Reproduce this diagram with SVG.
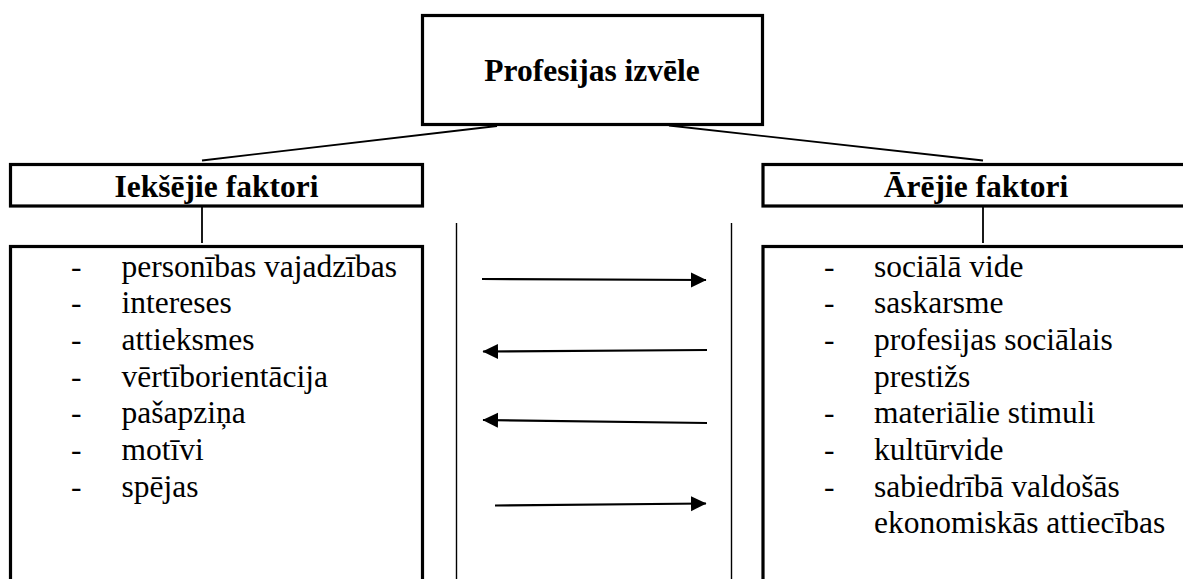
<svg xmlns="http://www.w3.org/2000/svg" width="1183" height="579" viewBox="0 0 1183 579">
<defs>
<style>
.box{fill:#fff;stroke:#000;stroke-width:3.2}
.ln{stroke:#000;stroke-width:1.8;fill:none}
.vl{stroke:#000;stroke-width:1.4;fill:none}
.ar{stroke:#000;stroke-width:2.2;fill:none}
text{font-family:'Liberation Serif','Times New Roman',Tinos,'DejaVu Serif','Noto Serif',serif;font-size:31.5px;fill:#000}
.h{font-weight:bold}
</style>
<marker id="ah" markerUnits="userSpaceOnUse" markerWidth="16" markerHeight="16" viewBox="0 0 16 16" refX="15" refY="8" orient="auto">
<path d="M0,0.5 L15.5,8 L0,15.5 Z" fill="#000"/>
</marker>
</defs>
<rect width="1183" height="579" fill="#fff"/>
<g id="connectors">
<line class="ln" x1="497" y1="126" x2="202" y2="160.5"/>
<line class="ln" x1="669" y1="125.5" x2="983" y2="160.5"/>
<line class="ln" x1="202" y1="207" x2="202" y2="243"/>
<line class="ln" x1="983" y1="207" x2="983" y2="243"/>
<line class="vl" x1="456.5" y1="223" x2="456.5" y2="579"/>
<line class="vl" x1="731.5" y1="223" x2="731.5" y2="579"/>
<line class="ar" x1="482" y1="279" x2="706" y2="280" marker-end="url(#ah)"/>
<line class="ar" x1="707" y1="350" x2="483" y2="351.5" marker-end="url(#ah)"/>
<line class="ar" x1="707" y1="423" x2="483" y2="420" marker-end="url(#ah)"/>
<line class="ar" x1="495" y1="505.5" x2="706" y2="503.5" marker-end="url(#ah)"/>
</g>
<g id="top">
<rect class="box" x="422.5" y="15.5" width="340" height="109"/>
<text class="h" x="592" y="80.5" text-anchor="middle" font-family="Liberation Serif, serif">Profesijas izvēle</text>
</g>
<g id="iekseji">
<rect class="box" x="10.5" y="164.5" width="412" height="41.5"/>
<text class="h" x="216.5" y="196.5" text-anchor="middle">Iekšējie faktori</text>
</g>
<g id="areji">
<rect class="box" x="763" y="164.5" width="430" height="41.5"/>
<text class="h" x="976" y="196.5" text-anchor="middle">Ārējie faktori</text>
</g>
<g id="iekseji-list">
<rect class="box" x="10.5" y="246.5" width="412" height="345"/>
<text x="71" y="276.7">-</text><text x="121.5" y="276.7">personības vajadzības</text>
<text x="71" y="313.3">-</text><text x="121.5" y="313.3">intereses</text>
<text x="71" y="350">-</text><text x="121.5" y="350">attieksmes</text>
<text x="71" y="386.7">-</text><text x="121.5" y="386.7">vērtīborientācija</text>
<text x="71" y="423.3">-</text><text x="121.5" y="423.3">pašapziņa</text>
<text x="71" y="460">-</text><text x="121.5" y="460">motīvi</text>
<text x="71" y="496.7">-</text><text x="121.5" y="496.7">spējas</text>
</g>
<g id="areji-list">
<rect class="box" x="763" y="246.5" width="430" height="345"/>
<text x="824" y="276.7">-</text><text x="874" y="276.7">sociālā vide</text>
<text x="824" y="313.3">-</text><text x="874" y="313.3">saskarsme</text>
<text x="824" y="350">-</text><text x="874" y="350">profesijas sociālais</text>
<text x="874" y="386.7">prestižs</text>
<text x="824" y="423.3">-</text><text x="874" y="423.3">materiālie stimuli</text>
<text x="824" y="460">-</text><text x="874" y="460">kultūrvide</text>
<text x="824" y="496.7">-</text><text x="874" y="496.7">sabiedrībā valdošās</text>
<text x="874" y="533.3">ekonomiskās attiecības</text>
</g>
</svg>
